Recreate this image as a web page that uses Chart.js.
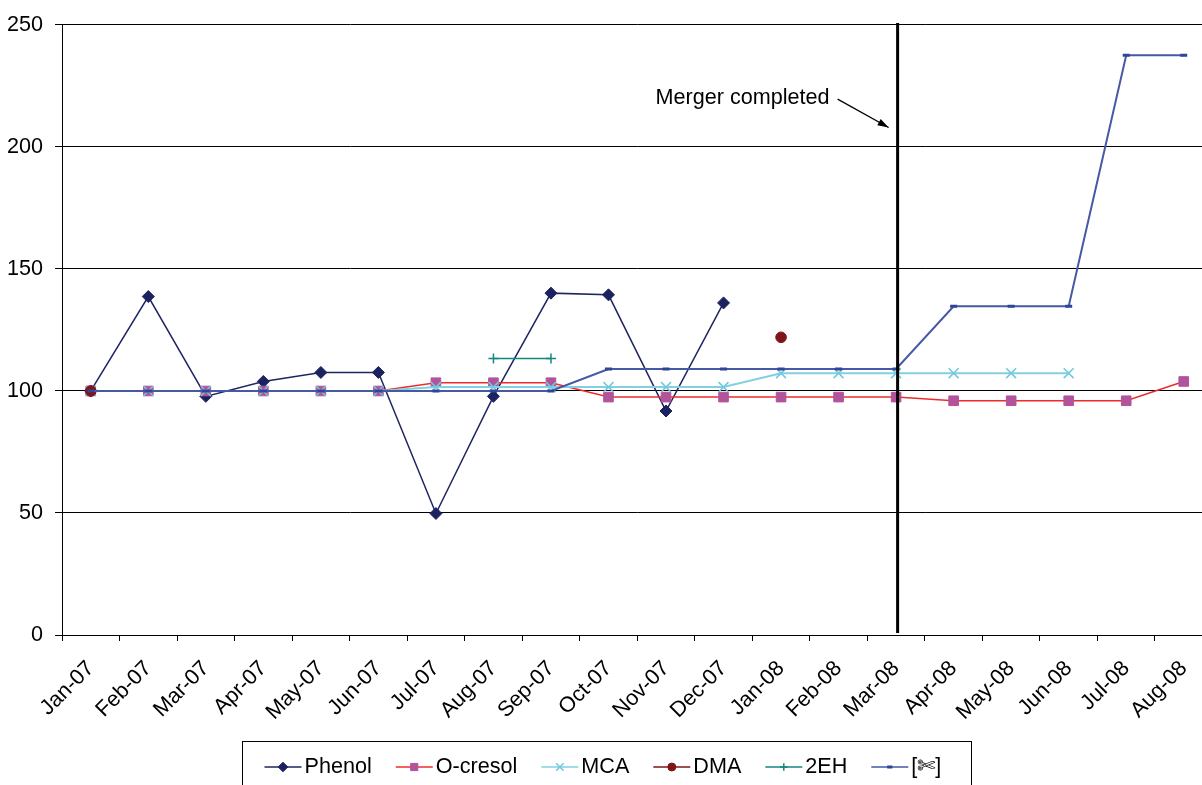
<!DOCTYPE html>
<html>
<head>
<meta charset="utf-8">
<script src="https://cdn.jsdelivr.net/npm/chart.js@4/dist/chart.umd.min.js"></script>
<style>
  html, body { margin: 0; padding: 0; background: #fff; overflow: hidden; }
  #wrap { width: 1202px; height: 785px; overflow: hidden; position: relative; }
  canvas { display: block; }
</style>
</head>
<body>
<div id="wrap"><canvas id="c" width="1221" height="796"></canvas></div>
<script>
// Monthly price index per product (Jan-07 = 100)
const categories = ['Jan-07','Feb-07','Mar-07','Apr-07','May-07','Jun-07','Jul-07','Aug-07','Sep-07','Oct-07',
                    'Nov-07','Dec-07','Jan-08','Feb-08','Mar-08','Apr-08','May-08','Jun-08','Jul-08','Aug-08'];
const phenol   = [100, 138.7, 97.8, 103.9, 107.6, 107.6, 49.8, 97.8, 140.1, 139.4, 91.8, 136.1,
                  null, null, null, null, null, null, null, null];
const oCresol  = [100, 100, 100, 100, 100, 100, 103.4, 103.4, 103.4, 97.5, 97.5, 97.5,
                  97.5, 97.5, 97.5, 96, 96, 96, 96, 103.9];
const mca      = [100, 100, 100, 100, 100, 100, 101.6, 101.6, 101.6, 101.6, 101.6, 101.6,
                  107.3, 107.3, 107.3, 107.3, 107.3, 107.3, null, null];
const dma      = [100, null, null, null, null, null, null, null, null, null, null, null,
                  122, null, null, null, null, null, null, null];
const twoEH    = [null, null, null, null, null, null, null, 113.3, 113.3, null, null, null,
                  null, null, null, null, null, null, null, null];
const scissors = [100, 100, 100, 100, 100, 100, 100, 100, 100, 109, 109, 109,
                  109, 109, 109, 134.7, 134.7, 134.7, 237.6, 237.6];
const yTicks = [0, 50, 100, 150, 200, 250];
const mergerMonth = 'Mar-08';
const mergerText = 'Merger completed';

const FONT = "'Liberation Sans', Arial, sans-serif";
const FONT_SIZE = 21.6;
const LEGEND_CENTER = 606.5;

function series(label, data, line, marker, style, radius, opts) {
  return Object.assign({
    label, data,
    borderColor: line,
    backgroundColor: marker,
    borderWidth: 1.5,
    pointStyle: style,
    pointRadius: radius,
    pointHoverRadius: radius,
    pointBackgroundColor: marker,
    pointBorderColor: marker,
    pointBorderWidth: 1,
    tension: 0,
    spanGaps: false,
    fill: false
  }, opts || {});
}

const datasets = [
  series('Phenol',   phenol,   '#1f2563', '#1c2260', 'rectRot', 6, { order: 6 }),
  series('O-cresol', oCresol,  '#ee2b2b', '#b2549c', 'rect', 6.8, { order: 5 }),
  series('MCA',      mca,      '#82d0e0', '#6fc8dc', 'crossRot', 7, { order: 4, borderWidth: 2, pointBorderWidth: 1.5 }),
  series('DMA',      dma,      '#7e1518', '#7e1518', 'circle', 5.3, { order: 3 }),
  series('2EH',      twoEH,    '#15877f', '#15877f', 'cross', 5, { order: 2, pointBorderWidth: 1.5 }),
  series('[\u2704]', scissors, '#4559a5', '#2f4596', 'line', 3.5, { order: 1, borderWidth: 2, pointBorderWidth: 3 })
];

function marker(ctx, ds, x, y, scale) {
  ctx.save();
  ctx.fillStyle = ds.pointBackgroundColor;
  ctx.strokeStyle = ds.pointBorderColor;
  ctx.lineWidth = ds.pointBorderWidth;
  Chart.helpers.drawPoint(ctx, {
    pointStyle: ds.pointStyle, radius: ds.pointRadius * scale,
    rotation: 0, borderWidth: ds.pointBorderWidth
  }, x, y);
  ctx.restore();
}

// Vertical event line with its arrowed caption
const mergerPlugin = {
  id: 'merger',
  afterDatasetsDraw(chart) {
    const { ctx, chartArea, scales } = chart;
    const x = scales.x.getPixelForValue(categories.indexOf(mergerMonth)) + 1.5;
    ctx.save();
    ctx.strokeStyle = '#000';
    ctx.lineWidth = 3;
    ctx.beginPath();
    ctx.moveTo(x, chartArea.top - 2);
    ctx.lineTo(x, chartArea.bottom - 2);
    ctx.stroke();

    const ty = scales.y.getPixelForValue(220);
    ctx.font = FONT_SIZE + 'px ' + FONT;
    ctx.fillStyle = '#000';
    ctx.textAlign = 'right';
    ctx.textBaseline = 'middle';
    ctx.fillText(mergerText, x - 68, ty);

    const x0 = x - 60, y0 = ty + 1;
    const x1 = x - 9, y1 = scales.y.getPixelForValue(208);
    ctx.lineWidth = 1.3;
    ctx.beginPath();
    ctx.moveTo(x0, y0);
    ctx.lineTo(x1, y1);
    ctx.stroke();
    const a = Math.atan2(y1 - y0, x1 - x0);
    const L = 11, W = 3.5;
    ctx.beginPath();
    ctx.moveTo(x1, y1);
    ctx.lineTo(x1 - L * Math.cos(a) + W * Math.sin(a), y1 - L * Math.sin(a) - W * Math.cos(a));
    ctx.lineTo(x1 - L * Math.cos(a) - W * Math.sin(a), y1 - L * Math.sin(a) + W * Math.cos(a));
    ctx.closePath();
    ctx.fill();
    ctx.restore();
  }
};

// Boxed legend with line-and-marker samples
const legendPlugin = {
  id: 'boxLegend',
  afterDraw(chart) {
    const { ctx } = chart;
    ctx.save();
    ctx.font = FONT_SIZE + 'px ' + FONT;
    const sample = 37, gapText = 3, gapItem = 24, padL = 22, padR = 30;
    const widths = datasets.map(d => ctx.measureText(d.label).width);
    const content = widths.reduce((s, w) => s + sample + gapText + w, 0) + gapItem * (datasets.length - 1);
    const boxW = Math.round(content + padL + padR);
    const boxL = Math.round(LEGEND_CENTER - boxW / 2) + 0.5;
    const boxT = 741.5;
    ctx.strokeStyle = '#000';
    ctx.lineWidth = 1;
    ctx.strokeRect(boxL, boxT, boxW, 80);
    const cy = 767;
    let x = boxL + padL;
    datasets.forEach((d, i) => {
      ctx.strokeStyle = d.borderColor;
      ctx.lineWidth = 1.5;
      ctx.beginPath();
      ctx.moveTo(x, cy);
      ctx.lineTo(x + sample, cy);
      ctx.stroke();
      marker(ctx, d, x + sample / 2, cy, d.pointStyle === 'rectRot' ? 0.8 : 0.75);
      ctx.fillStyle = '#000';
      ctx.textAlign = 'left';
      ctx.textBaseline = 'middle';
      ctx.fillText(d.label, x + sample + gapText, cy);
      x += sample + gapText + widths[i] + gapItem;
    });
    ctx.restore();
  }
};

new Chart(document.getElementById('c'), {
  type: 'line',
  data: { labels: categories, datasets },
  options: {
    responsive: false,
    animation: false,
    devicePixelRatio: 1,
    layout: { padding: { top: 24, right: 2, left: 0, bottom: 0 } },
    plugins: { legend: { display: false }, tooltip: { enabled: false } },
    scales: {
      x: {
        type: 'category',
        offset: true,
        grid: { offset: true, drawOnChartArea: false, tickLength: 6, color: '#000', tickColor: '#000', lineWidth: 1 },
        border: { color: '#000', width: 1 },
        ticks: {
          autoSkip: false, minRotation: 45, maxRotation: 45, padding: 15,
          color: '#000', font: { family: FONT, size: FONT_SIZE }
        },
        afterFit(s) { s.height = 161; }
      },
      y: {
        min: 0, max: 250,
        afterBuildTicks(s) { s.ticks = yTicks.map(v => ({ value: v })); },
        grid: { color: '#000', tickColor: '#000', tickLength: 7, lineWidth: 1 },
        border: { color: '#000', width: 1 },
        ticks: { padding: 12, color: '#000', font: { family: FONT, size: FONT_SIZE } },
        afterFit(s) { s.width = 62; }
      }
    }
  },
  plugins: [mergerPlugin, legendPlugin]
});
</script>
</body>
</html>
